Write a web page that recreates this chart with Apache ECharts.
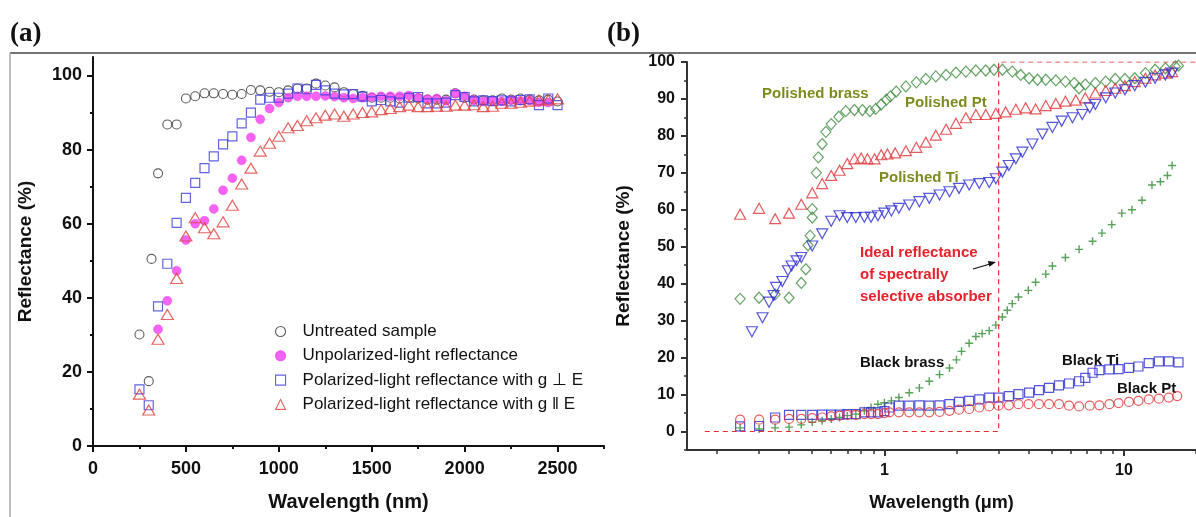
<!DOCTYPE html>
<html>
<head>
<meta charset="utf-8">
<script src="https://cdn.jsdelivr.net/npm/echarts@6/dist/echarts.min.js"></script>
<style>
  html, body { margin: 0; padding: 0; background: #fff; }
  #chart { width: 1196px; height: 517px; }
</style>
</head>
<body>
<div id="chart"></div>
<script>
// (a) reflectance vs wavelength (nm)
const untreatedX = [250, 300, 315, 350, 400, 450, 500, 550, 600, 650, 700, 750, 800, 850, 900, 950, 1000, 1050, 1100, 1150, 1200, 1250, 1300, 1350, 1400, 1450, 1500, 1550, 1600, 1650, 1700, 1750, 1800, 1850, 1900, 1950, 2000, 2050, 2100, 2150, 2200, 2250, 2300, 2350, 2400, 2450, 2500];
const untreatedY = [30.1, 17.5, 50.5, 73.6, 86.8, 86.8, 93.8, 94.4, 95.2, 95.2, 95, 94.8, 95, 96.1, 96, 95.6, 95.5, 96, 96.5, 96.5, 97.8, 97.3, 96.8, 95.5, 95, 94.5, 94, 94, 94, 93.8, 94, 93.8, 93.5, 93.5, 93.5, 95.2, 94, 93.5, 93.3, 93.3, 93.8, 93.5, 93.8, 93.5, 93.3, 93.5, 93];

const unpolX = [350, 400, 450, 500, 550, 600, 650, 700, 750, 800, 850, 900, 950, 1000, 1050, 1100, 1150, 1200, 1250, 1300, 1350, 1400, 1450, 1500, 1550, 1600, 1650, 1700, 1750, 1800, 1850, 1900, 1950, 2000, 2050, 2100, 2150, 2200, 2250, 2300, 2350, 2400, 2450];
const unpolY = [31.5, 39.2, 47.3, 55.6, 60, 60.8, 64, 69, 72.3, 77.1, 83.3, 88.2, 91.1, 92.7, 94, 94.4, 94.4, 94.4, 94.5, 94.3, 94, 93.8, 94, 94.2, 94.4, 94.4, 94.4, 94.6, 94, 93.6, 93.8, 93.2, 95.2, 94.4, 93.4, 93, 93.2, 93, 93.4, 93.2, 93.3, 92.8, 92.7];

const perpX = [250, 300, 350, 400, 450, 500, 550, 600, 650, 700, 750, 800, 850, 900, 950, 1000, 1050, 1100, 1150, 1200, 1250, 1300, 1350, 1400, 1450, 1500, 1550, 1600, 1650, 1700, 1750, 1800, 1850, 1900, 1950, 2000, 2050, 2100, 2150, 2200, 2250, 2300, 2350, 2400, 2450, 2500];
const perpY = [15.3, 11, 37.7, 49.2, 60.2, 67, 71, 75, 78.2, 81.4, 83.6, 87.1, 90, 93.5, 94, 94, 95.1, 96.5, 96.3, 97.5, 96, 95.1, 94.9, 95, 94.3, 93, 93.4, 93, 92.7, 94, 94.2, 92.5, 92.5, 92.7, 94.7, 94.2, 93, 93.3, 93.1, 93.3, 93, 93.4, 93.6, 92, 93.8, 92];

const paraX = [250, 300, 350, 400, 450, 500, 550, 600, 650, 700, 750, 800, 850, 900, 950, 1000, 1050, 1100, 1150, 1200, 1250, 1300, 1350, 1400, 1450, 1500, 1550, 1600, 1650, 1700, 1750, 1800, 1850, 1900, 1950, 2000, 2050, 2100, 2150, 2200, 2250, 2300, 2350, 2400, 2450, 2500];
const paraY = [14, 9.7, 28.8, 35.5, 45.2, 56.7, 61.6, 58.9, 57.3, 60.5, 65, 70.7, 75, 79.6, 81.7, 83.6, 85.9, 86.5, 87.8, 88.6, 89.3, 89.6, 89, 89.6, 90, 90.2, 90.8, 91.1, 91.6, 92, 91.6, 91.6, 91.7, 91.7, 92, 92, 92.1, 91.6, 91.7, 92.5, 92.5, 92.8, 93.1, 93.4, 93.4, 93.7];

// (b) reflectance vs wavelength (um), log axis
const brassX = [0.25, 0.30, 0.35, 0.40, 0.45, 0.47, 0.48, 0.49, 0.50, 0.50, 0.52, 0.53, 0.55, 0.57, 0.60, 0.645, 0.69, 0.75, 0.81, 0.87, 0.92, 0.97, 1.02, 1.06, 1.12, 1.23, 1.36, 1.49, 1.64, 1.81, 1.99, 2.19, 2.41, 2.65, 2.87, 3.11, 3.42, 3.71, 4.02, 4.36, 4.72, 5.2, 5.7, 6.2, 6.5, 6.9, 7.6, 8.4, 9.2, 10.1, 11.1, 12.3, 13.5, 14.9, 16.4, 16.9];
const brassY = [35.9, 36.2, 37.1, 36.2, 40.2, 43.9, 50.4, 53, 57.9, 60.2, 70, 74.2, 77.8, 81.1, 83.2, 85.2, 86.7, 87, 87, 86.7, 87.3, 88.5, 89.8, 90.7, 92, 93.4, 94.5, 95.4, 96.1, 96.5, 97.1, 97.4, 97.7, 97.7, 97.9, 97.9, 97.4, 96.5, 95.6, 95.2, 95.2, 95, 94.7, 94.3, 92.9, 93.9, 94.3, 94.7, 95.4, 95.4, 95.6, 97, 97.9, 98.3, 98.8, 99];

const ptX = [0.25, 0.30, 0.35, 0.40, 0.45, 0.50, 0.55, 0.60, 0.65, 0.70, 0.75, 0.80, 0.85, 0.91, 0.97, 1.03, 1.11, 1.23, 1.36, 1.49, 1.64, 1.81, 1.99, 2.19, 2.41, 2.65, 2.92, 3.21, 3.54, 3.89, 4.28, 4.72, 5.2, 5.7, 6.3, 6.9, 7.6, 8.4, 9.2, 10.1, 11.1, 12.3, 13.5, 14.9, 15.9];
const ptY = [58.8, 60.4, 57.6, 59.1, 61.5, 64.6, 67.1, 69.3, 70.7, 72.5, 73.8, 74, 73.8, 73.8, 74.9, 75.1, 75.4, 76, 76.9, 78.3, 80.2, 81.8, 83.4, 84.9, 85.8, 85.8, 86.1, 86.5, 87.2, 87.6, 87.3, 88.2, 88.8, 89.4, 89.7, 90.3, 91.6, 92.3, 92.9, 93.6, 94.7, 95.6, 96.5, 97, 97.4];

const tiX = [0.28, 0.31, 0.33, 0.345, 0.353, 0.375, 0.396, 0.41, 0.43, 0.45, 0.50, 0.55, 0.60, 0.65, 0.70, 0.76, 0.825, 0.88, 0.94, 1.0, 1.07, 1.15, 1.27, 1.4, 1.54, 1.7, 1.87, 2.05, 2.26, 2.49, 2.74, 2.92, 3.11, 3.31, 3.54, 3.77, 4.15, 4.57, 5.03, 5.5, 6.1, 6.7, 7.2, 7.6, 8.4, 9.2, 10.1, 11.1, 12.3, 13.5, 14.9, 15.9];
const tiY = [27, 30.8, 35, 36.8, 39, 40.6, 43.5, 44.8, 46.2, 47.1, 50.2, 53.5, 56.9, 58.4, 57.9, 57.9, 58, 58, 58.4, 59.1, 59.7, 60.4, 61.3, 62.2, 63.1, 64, 64.9, 65.8, 66.7, 67.1, 67.4, 68.4, 70.2, 72, 73.8, 75.6, 77.8, 80.5, 82.3, 84, 84.9, 85.8, 87.6, 88.5, 90.3, 91.6, 92.5, 93.6, 94.5, 95.6, 96.5, 97];

const bBrassX = [0.25, 0.30, 0.35, 0.40, 0.45, 0.50, 0.55, 0.60, 0.65, 0.70, 0.76, 0.825, 0.88, 0.94, 1.0, 1.07, 1.15, 1.27, 1.4, 1.54, 1.7, 1.87, 2.0, 2.1, 2.26, 2.41, 2.56, 2.74, 2.92, 3.11, 3.26, 3.42, 3.63, 3.99, 4.28, 4.72, 5.03, 5.7, 6.5, 7.4, 8.1, 8.9, 9.8, 10.8, 11.9, 13.1, 14.2, 15.2, 15.9];
const bBrassY = [1, 0.7, 1, 1.2, 1.8, 2.5, 2.9, 3.4, 3.8, 4.3, 4.7, 5.6, 6.5, 7.4, 7.8, 8.3, 9.2, 10.5, 11.8, 13.6, 15.4, 17.2, 19.4, 21.7, 23.9, 25.7, 26.5, 27.3, 28.8, 31, 32.8, 34.6, 36.4, 38.2, 40.4, 42.6, 44.8, 47.1, 49.3, 51.5, 53.7, 56, 59.1, 60, 62.6, 66.7, 67.6, 69.3, 72];

const bTiX = [0.25, 0.30, 0.35, 0.40, 0.45, 0.50, 0.55, 0.60, 0.65, 0.70, 0.76, 0.825, 0.88, 0.94, 1.0, 1.05, 1.15, 1.27, 1.4, 1.54, 1.7, 1.87, 2.05, 2.26, 2.49, 2.74, 3.0, 3.31, 3.63, 4.02, 4.42, 4.87, 5.36, 5.9, 6.5, 6.9, 7.4, 7.9, 8.7, 9.5, 10.5, 11.5, 12.7, 14.0, 15.4, 16.9];
const bTiY = [1.4, 1.5, 3.8, 4.5, 4.5, 4.5, 4.6, 4.6, 4.6, 4.7, 4.7, 5.2, 5.2, 5.2, 5.5, 6.5, 7, 7, 7.1, 7, 7.1, 7.4, 8, 8.3, 8.7, 9.2, 9.2, 9.6, 10.1, 10.5, 11.2, 11.8, 12.5, 13, 13.6, 14.5, 15.9, 16.6, 16.8, 16.9, 17.2, 17.6, 18.5, 19, 19, 18.7];

const bPtX = [0.25, 0.30, 0.35, 0.40, 0.45, 0.50, 0.55, 0.60, 0.65, 0.70, 0.76, 0.825, 0.88, 0.94, 1.0, 1.05, 1.15, 1.27, 1.4, 1.54, 1.7, 1.87, 2.05, 2.26, 2.49, 2.74, 3.0, 3.31, 3.63, 4.0, 4.42, 4.87, 5.36, 5.9, 6.5, 7.2, 7.9, 8.7, 9.5, 10.5, 11.5, 12.7, 14, 15.4, 16.7];
const bPtY = [3.2, 3.2, 3.2, 3.4, 3.4, 3.6, 3.8, 4.1, 4.3, 4.5, 4.5, 4.7, 4.7, 4.7, 5, 5.2, 5.2, 5.2, 5.2, 5.2, 5.3, 5.6, 5.9, 6.1, 6.5, 6.8, 7, 7.1, 7.4, 7.4, 7.4, 7.4, 7.4, 7, 6.8, 7, 7.1, 7.4, 7.7, 8, 8.3, 8.7, 8.9, 9.2, 9.6];

// ideal step reflectance of a spectrally selective absorber
const idealX = [0.178, 3, 3, 20];
const idealY = [0, 0, 100, 100];

// tick values
const aXLabels = [0, 500, 1000, 1500, 2000, 2500];
const aXMinor = [250, 750, 1250, 1750, 2250, 2750];
const aYLabels = [0, 20, 40, 60, 80, 100];
const aYMinor = [10, 30, 50, 70, 90];
const bXLabels = [1, 10];
const bXMinor = [0.2, 0.3, 0.4, 0.5, 0.6, 0.7, 0.8, 0.9, 2, 3, 4, 5, 6, 7, 8, 9, 20];
const bYLabels = [0, 10, 20, 30, 40, 50, 60, 70, 80, 90, 100];
const bYMinor = [-5, 5, 15, 25, 35, 45, 55, 65, 75, 85, 95];

const zip = (xs, ys) => xs.map((x, i) => [x, ys[i]]);
const plain = (v) => String(v);

const FONT = 'Liberation Sans';
const chart = echarts.init(document.getElementById('chart'), null, { renderer: 'canvas' });

const hollow = (c, w) => ({ color: 'transparent', borderColor: c, borderWidth: w || 1.2 });

const mainAxis = (extra) => Object.assign({
  axisLine: { onZero: false, lineStyle: { color: '#111', width: 2 } },
  splitLine: { show: false },
}, extra);

const option = {
  animation: false,
  backgroundColor: '#fff',
  textStyle: { fontFamily: FONT },
  grid: [
    { left: 93, top: 57, width: 511, height: 390 },
    { left: 687, top: 62, width: 509, height: 393 }
  ],
  legend: {
    orient: 'vertical',
    left: 270,
    top: 318,
    itemWidth: 10,
    itemHeight: 10,
    itemGap: 7.3,
    selectedMode: false,
    itemStyle: { borderWidth: 1.1 },
    textStyle: { fontSize: 17, lineHeight: 14, color: '#111', fontFamily: FONT, padding: [0, 0, 0, 12] },
    data: ['Untreated sample', 'Unpolarized-light reflectance', 'Polarized-light reflectance with g \u22a5 E', 'Polarized-light reflectance with g \u2016 E']
  },
  xAxis: [
    mainAxis({
      gridIndex: 0, type: 'value', min: 0, max: 2750, position: 'bottom',
      name: 'Wavelength (nm)', nameLocation: 'middle', nameGap: 46,
      nameTextStyle: { fontSize: 20, fontWeight: 'bold', color: '#111' },
      axisTick: { customValues: aXLabels, length: 6, lineStyle: { color: '#111', width: 2 } },
      axisLabel: { customValues: aXLabels, formatter: plain, margin: 14, fontSize: 18, fontWeight: 'bold', color: '#111' }
    }),
    {
      gridIndex: 0, type: 'value', min: 0, max: 2750, position: 'bottom',
      axisLine: { show: false, onZero: false }, splitLine: { show: false }, axisLabel: { show: false },
      axisTick: { customValues: aXMinor, length: 3, lineStyle: { color: '#111', width: 2 } }
    },
    mainAxis({
      gridIndex: 1, type: 'log', logBase: 10, min: 0.15, max: 20, position: 'bottom',
      axisLine: { onZero: false, lineStyle: { color: '#333', width: 2 } },
      name: 'Wavelength (\u03bcm)', nameLocation: 'middle', nameGap: 44,
      nameTextStyle: { fontSize: 18, fontWeight: 'bold', color: '#111' },
      axisTick: { customValues: bXLabels, length: 6, lineStyle: { color: '#333', width: 2 } },
      axisLabel: { customValues: bXLabels, formatter: plain, margin: 13, fontSize: 16, fontWeight: 'bold', color: '#111' }
    }),
    {
      gridIndex: 1, type: 'log', logBase: 10, min: 0.15, max: 20, position: 'bottom',
      axisLine: { show: false, onZero: false }, splitLine: { show: false }, axisLabel: { show: false },
      axisTick: { customValues: bXMinor, length: 4, lineStyle: { color: '#333', width: 1.5 } }
    }
  ],
  yAxis: [
    mainAxis({
      gridIndex: 0, type: 'value', min: 0, max: 105, position: 'left',
      name: 'Reflectance (%)', nameLocation: 'middle', nameGap: 58,
      nameTextStyle: { fontSize: 19, fontWeight: 'bold', color: '#111' },
      axisTick: { customValues: aYLabels, length: 6, lineStyle: { color: '#111', width: 2 } },
      axisLabel: { customValues: aYLabels, formatter: plain, margin: 11, fontSize: 18, fontWeight: 'bold', color: '#111' }
    }),
    {
      gridIndex: 0, type: 'value', min: 0, max: 105, position: 'left',
      axisLine: { show: false, onZero: false }, splitLine: { show: false }, axisLabel: { show: false },
      axisTick: { customValues: aYMinor, length: 3, lineStyle: { color: '#111', width: 2 } }
    },
    mainAxis({
      gridIndex: 1, type: 'value', min: -5, max: 100, position: 'left',
      axisLine: { onZero: false, lineStyle: { color: '#333', width: 2 } },
      name: 'Reflectance (%)', nameLocation: 'middle', nameGap: 54,
      nameTextStyle: { fontSize: 19, fontWeight: 'bold', color: '#111' },
      axisTick: { customValues: bYLabels, length: 6, lineStyle: { color: '#333', width: 2 } },
      axisLabel: { customValues: bYLabels, formatter: plain, margin: 12, fontSize: 16, fontWeight: 'bold', color: '#111' }
    }),
    {
      gridIndex: 1, type: 'value', min: -5, max: 100, position: 'left',
      axisLine: { show: false, onZero: false }, splitLine: { show: false }, axisLabel: { show: false },
      axisTick: { customValues: bYMinor, length: 3, lineStyle: { color: '#333', width: 1.5 } }
    }
  ],
  series: [
    {
      name: 'Untreated sample', type: 'scatter', xAxisIndex: 0, yAxisIndex: 0,
      symbol: 'circle', symbolSize: 9, itemStyle: hollow('#333', 1.1), data: zip(untreatedX, untreatedY)
    },
    {
      name: 'Unpolarized-light reflectance', type: 'scatter', xAxisIndex: 0, yAxisIndex: 0,
      symbol: 'circle', symbolSize: 9, itemStyle: { color: '#f23cf0', borderColor: '#f23cf0', borderWidth: 0.5 },
      data: zip(unpolX, unpolY)
    },
    {
      name: 'Polarized-light reflectance with g \u22a5 E', type: 'scatter', xAxisIndex: 0, yAxisIndex: 0,
      symbol: 'rect', symbolSize: 9, itemStyle: hollow('#3b3bdc'), data: zip(perpX, perpY)
    },
    {
      name: 'Polarized-light reflectance with g \u2016 E', type: 'scatter', xAxisIndex: 0, yAxisIndex: 0,
      symbol: 'triangle', symbolSize: [12, 10], itemStyle: hollow('#e0403c'), data: zip(paraX, paraY)
    },
    {
      name: 'Ideal', type: 'line', xAxisIndex: 2, yAxisIndex: 2, symbol: 'none',
      lineStyle: { color: '#e23030', width: 1.2, type: [5, 4] }, data: zip(idealX, idealY)
    },
    {
      name: 'Polished brass', type: 'scatter', xAxisIndex: 2, yAxisIndex: 2,
      symbol: 'diamond', symbolSize: [10, 11], itemStyle: hollow('#3e8c3e'), data: zip(brassX, brassY)
    },
    {
      name: 'Polished Pt', type: 'scatter', xAxisIndex: 2, yAxisIndex: 2,
      symbol: 'triangle', symbolSize: [11, 10], itemStyle: hollow('#e03236'), data: zip(ptX, ptY)
    },
    {
      name: 'Polished Ti', type: 'scatter', xAxisIndex: 2, yAxisIndex: 2,
      symbol: 'triangle', symbolRotate: 180, symbolSize: [11, 10], itemStyle: hollow('#2a2ad6'), data: zip(tiX, tiY)
    },
    {
      name: 'Black brass', type: 'scatter', xAxisIndex: 2, yAxisIndex: 2,
      symbol: 'path://M5,0L5,10M0,5L10,5', symbolSize: 8, itemStyle: hollow('#2e8b2e', 1.4), data: zip(bBrassX, bBrassY)
    },
    {
      name: 'Black Ti', type: 'scatter', xAxisIndex: 2, yAxisIndex: 2,
      symbol: 'rect', symbolSize: 9, itemStyle: hollow('#2a2ad6'), data: zip(bTiX, bTiY)
    },
    {
      name: 'Black Pt', type: 'scatter', xAxisIndex: 2, yAxisIndex: 2,
      symbol: 'circle', symbolSize: 9, itemStyle: hollow('#e03236'), data: zip(bPtX, bPtY)
    }
  ],
  graphic: [
    { type: 'line', shape: { x1: 10, y1: 53, x2: 1196, y2: 53 }, style: { stroke: '#444', lineWidth: 1.5 } },
    { type: 'line', shape: { x1: 10, y1: 53, x2: 10, y2: 517 }, style: { stroke: '#aaa', lineWidth: 1.5 } },
    { type: 'text', x: 10, y: 34, style: { text: '(a)', font: 'bold 27px "Liberation Serif"', fill: '#111', verticalAlign: 'middle' } },
    { type: 'text', x: 607, y: 34, style: { text: '(b)', font: 'bold 27px "Liberation Serif"', fill: '#111', verticalAlign: 'middle' } },
    { type: 'text', x: 762, y: 94, style: { text: 'Polished brass', font: 'bold 15px "Liberation Sans"', fill: '#7f8a1e', verticalAlign: 'middle' } },
    { type: 'text', x: 905, y: 103, style: { text: 'Polished Pt', font: 'bold 15px "Liberation Sans"', fill: '#7f8a1e', verticalAlign: 'middle' } },
    { type: 'text', x: 879, y: 178, style: { text: 'Polished Ti', font: 'bold 15px "Liberation Sans"', fill: '#7f8a1e', verticalAlign: 'middle' } },
    { type: 'text', x: 860, y: 242, style: { text: 'Ideal reflectance\nof spectrally\nselective absorber', font: 'bold 15px "Liberation Sans"', lineHeight: 22, fill: '#e8202a', verticalAlign: 'top' } },
    { type: 'text', x: 860, y: 363, style: { text: 'Black brass', font: 'bold 15px "Liberation Sans"', fill: '#111', verticalAlign: 'middle' } },
    { type: 'text', x: 1062, y: 361, style: { text: 'Black Ti', font: 'bold 15px "Liberation Sans"', fill: '#111', verticalAlign: 'middle' } },
    { type: 'text', x: 1117, y: 389, style: { text: 'Black Pt', font: 'bold 15px "Liberation Sans"', fill: '#111', verticalAlign: 'middle' } },
    { type: 'line', shape: { x1: 973, y1: 269, x2: 990, y2: 264 }, style: { stroke: '#111', lineWidth: 1.3 } },
    { type: 'polygon', shape: { points: [[996, 262], [989.4, 266.8], [987.8, 260.9]] }, style: { fill: '#111' } }
  ]
};

chart.setOption(option);
</script>
</body>
</html>
